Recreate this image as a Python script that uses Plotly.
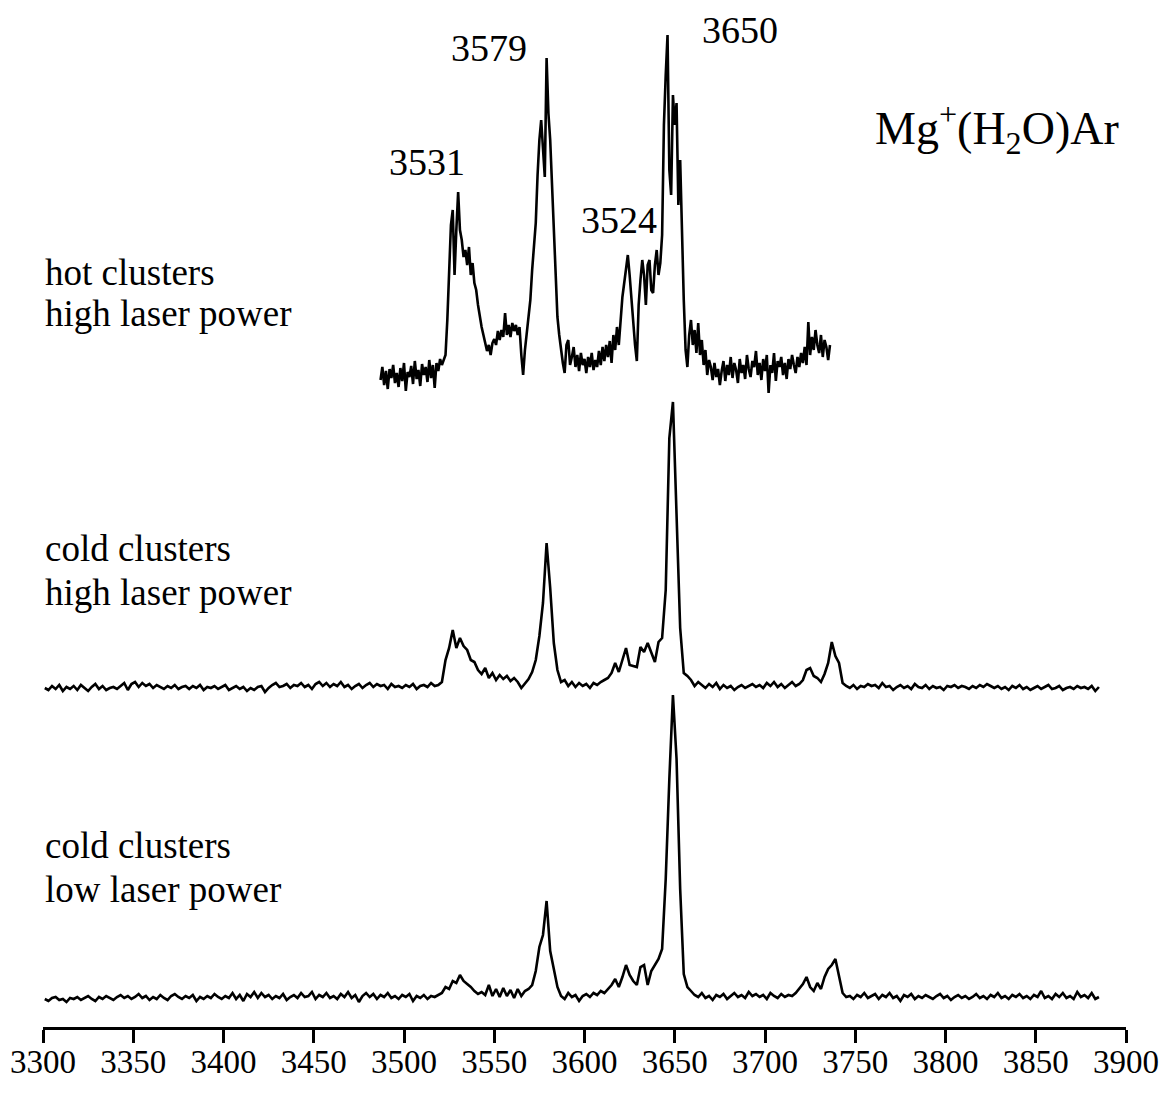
import plotly.graph_objects as go

# ---------------- data (wavenumber in cm^-1, intensity in arbitrary units) ----------------
# hot clusters, high laser power: sampled every 1 cm^-1 starting at 3487
hot_start = 3487
hot_step = 1
hot_left = [-5, 8, -10, 4, -14, 6, -3, 10, -8, 2,
            -12, 7, -6, 12, -16, 3, -2, 9, -9, 14,
            -4, 5, -11, 11, 0, 8, -7, 15, -3, 10,
            -13, 12, 4, 16]
hot_peaks = [10, 15, 20, 55, 100, 150, 165, 100, 145, 183,
             145, 135, 118, 125, 110, 128, 100, 112, 92, 85,
             70, 58, 48, 40, 30, 24, 30, 20, 32, 36,
             30, 44, 35, 45, 38, 62, 40, 50, 38, 52,
             44, 50, 40, 48, 20, 0, 25, 40, 58, 75,
             105, 130, 152, 200, 235, 255, 230, 198, 317, 262,
             235, 190, 130, 92, 58, 40, 25, 12, 2, 30,
             35, 10, 18, 28, 8, 20, 4, 22, 10, 16,
             2, 18, 8, 22, 5, 15, 8, 24, 10, 28,
             14, 30, 18, 34, 12, 40, 25, 48, 30, 60,
             78, 92, 105, 120, 100, 75, 50, 30, 14, 70,
             95, 115, 100, 70, 110, 115, 85, 82, 110, 125,
             100, 112, 140, 250, 300, 340, 205, 180, 280, 250,
             272, 170, 215, 135, 75, 25, 8, 40, 55, 30,
             45, 22, 52, 20, 35, 10, 25, 0, 15]
hot_right = [8, -5, 12, -2, 6, -10, 4, 14, -6, 10,
             0, 18, -3, 12, 5, -8, 16, 2, 10, -4,
             20, 6, -2, 14, 8, 24, 0, 12, -5, 16,
             4, 20, -18, 10, 2, 22, -6, 14, 8, 18,
             0, 12, -4, 16, 6, 20, 10, 2, 18, 8,
             22, 12, 28, 10, 53, 20, 38, 25, 45, 30,
             22, 40, 18, 35, 28, 15, 30]

# cold clusters, high laser power: sampled every 2 cm^-1 starting at 3301
cold_start = 3301
cold_step = 2
coldhi_left = [0, -2, 2, -1, 3, -3, 1, -1, 2, -2,
               3, 0, -3, 1, 4, -1, 2, -2, 0, 1,
               -1, 2, 5, -2, 4, 6, 1, 5, 2, 4,
               0, 3, 1, -1, 2, 0, 3, -1, 1, 2,
               -1, 2, 0, 3, -2, 1, 0, 2, -1, 1,
               3, -2, 0, 2, -1, 1, -3, 0, -2, 1,
               2, -4, 0, 3, 5, 1, 2, 4, 0, 3,
               2, 5, 1, 3, -1, 4, 6, 2, 5, 1,
               4, 2, 6, 1, 3, -1, 2, 4, 0, 3,
               5, 1, 4, 2, 3, -1, 4, 1, 2, 0,
               3, 1, 4, -1, 2, 3, 1, 5, 2]
coldhi_peaks = [3, 6, 28, 40, 58, 40, 50, 42, 38, 28,
                26, 18, 14, 20, 10, 15, 8, 13, 9, 12,
                7, 10, 6, 0, 4, 9, 16, 28, 52, 85,
                145, 100, 45, 18, 6, 8, 2, 6, 1, 5,
                2, 4, 0, 5, 3, 6, 8, 10, 15, 25,
                16, 28, 40, 23, 22, 21, 41, 36, 45, 35,
                26, 46, 50, 98, 250, 286, 175, 60, 15, 12]
coldhi_mid = [8, 2, 6, 3, 0, 4, 1, 5, -1, 3,
              0, 2, -2, 1, 3, 0, 2, 4, 1, 3,
              0, 5, 2, 6, 1, 4, 0, 3, 6, 2]
coldhi_bump = [4, 8, 18, 20, 12, 10, 6, 14, 25, 46, 32, 25, 5, 2]
coldhi_right = [0, 3, -1, 2, 1, 4, 2, 3, 0, 5,
                1, 2, -2, 1, 3, 0, 2, -1, 4, 1,
                0, 3, -1, 2, 0, 1, -2, 2, 1, 3,
                0, 2, 1, -1, 2, 0, 3, 1, 4, 2,
                0, 2, -1, 1, -2, 2, 0, 3, -1, 1,
                -2, 0, 2, -1, 1, 3, -1, 0, 2, -2,
                0, 1, -1, 2, 0, 1, -1, 2, -3, 1]

# cold clusters, low laser power: sampled every 2 cm^-1 starting at 3301
coldlo_left = [0, -2, 1, 2, -1, 0, -3, 1, 0, 2,
               -1, 1, 3, 0, -2, 2, 0, 3, 1, -1,
               2, 4, 1, 3, 0, 2, 5, 1, 3, -1,
               2, 0, 4, 1, -1, 3, 5, 2, 0, 3,
               1, 4, -2, 2, 0, 3, 1, 5, 2, 0,
               3, 1, 6, 0, 4, -2, 5, 2, 7, 1,
               6, 2, 4, 0, 3, 1, 5, -1, 2, 4,
               1, 6, 2, 3, 7, 0, 4, 2, 6, 1,
               3, 0, 5, 2, 7, 1, 4, -3, 3, 6,
               2, 5, 0, 4, 2, 6, 1, 3, 0, 4,
               2, 5, -2, 3, 1, 4, 0, 3, 2]
coldlo_peaks = [4, 6, 12, 10, 18, 16, 24, 18, 15, 12,
                8, 5, 7, 4, 14, 3, 10, 2, 11, 3,
                9, 1, 10, 3, 8, 10, 14, 28, 52, 64,
                98, 48, 30, 12, 3, 0, 6, 2, 4, -2,
                3, 5, 2, 6, 4, 8, 6, 10, 14, 20,
                12, 22, 34, 24, 18, 14, 32, 34, 14, 28,
                34, 40, 50, 120, 220, 304, 240, 110, 25, 12]
coldlo_mid = [8, 4, 2, 6, 1, 3, -1, 4, 2, 5,
              0, 3, 6, 2, 4, 1, 7, 3, 5, 2,
              4, 0, 6, 3, 1, 5, 2, 4]
coldlo_bump = [3, 6, 10, 15, 22, 12, 8, 16, 10, 22, 30, 34, 40, 22, 6, 2]
coldlo_right = [3, 0, 4, 2, 6, 1, 3, 5, 0, 4,
                2, 6, 1, 3, -2, 4, 2, 5, 0, 3,
                1, 4, 2, 0, 3, 5, 1, 3, -1, 2,
                4, 1, 3, 0, 2, 5, 1, 3, 0, 4,
                2, 6, 1, 3, 0, 4, 2, 5, 1, 3,
                0, 4, 2, 8, 1, 3, 0, 5, 2, 6,
                1, 3, 0, 7, 2, 4, 1, 6, 0, 2]

tick_values = [3300, 3350, 3400, 3450, 3500, 3550, 3600, 3650, 3700, 3750, 3800, 3850, 3900]
peak_labels = ["3531", "3579", "3524", "3650"]

# ---------------- assemble series ----------------
hot_y = hot_left + hot_peaks + hot_right
coldhi_y = coldhi_left + coldhi_peaks + coldhi_mid + coldhi_bump + coldhi_right
coldlo_y = coldlo_left + coldlo_peaks + coldlo_mid + coldlo_bump + coldlo_right

hot_x = [hot_start + hot_step * i for i in range(len(hot_y))]
coldhi_x = [cold_start + cold_step * i for i in range(len(coldhi_y))]
coldlo_x = [cold_start + cold_step * i for i in range(len(coldlo_y))]

# vertical offsets used to stack the spectra
OFF_HOT, OFF_HI, OFF_LO = 652, 339, 28

FONT = "Liberation Serif, Times New Roman, serif"

fig = go.Figure()
for xs, ys, off in [(hot_x, hot_y, OFF_HOT), (coldhi_x, coldhi_y, OFF_HI), (coldlo_x, coldlo_y, OFF_LO)]:
    fig.add_trace(go.Scatter(x=xs, y=[v + off for v in ys], mode="lines",
                             line=dict(color="black", width=2.6), showlegend=False,
                             hoverinfo="skip"))

W, H = 1169, 1094
ML, MR, MT, MB = 40, 34, 10, 67
PW, PH = W - ML - MR, H - MT - MB

def px(xp):
    return (xp - ML) / PW

def py(yp):
    return (H - MB - yp) / PH

ann = []
def add_text(txt, x, y, size, xanchor="left"):
    ann.append(dict(text=txt, x=px(x), y=py(y), xref="paper", yref="paper",
                    xanchor=xanchor, yanchor="middle", showarrow=False,
                    font=dict(family=FONT, size=size, color="black")))

add_text("hot clusters", 40, 272, 37)
add_text("high laser power", 40, 314, 37)
add_text("cold clusters", 40, 548, 37)
add_text("high laser power", 40, 592, 37)
add_text("cold clusters", 40, 845, 37)
add_text("low laser power", 40, 889, 37)
add_text(peak_labels[0], 428, 162, 38, "center")
add_text(peak_labels[1], 491, 48, 38, "center")
add_text(peak_labels[2], 622, 220, 38, "center")
add_text(peak_labels[3], 745, 30, 38, "center")
add_text("Mg<sup>+</sup>(H<sub>2</sub>O)Ar", 1005, 128, 46, "center")

fig.update_layout(
    width=W, height=H,
    margin=dict(l=ML, r=MR, t=MT, b=MB),
    paper_bgcolor="white", plot_bgcolor="white",
    annotations=ann,
    xaxis=dict(range=[3300, 3900], tickvals=tick_values,
               ticktext=[str(t) for t in tick_values],
               showgrid=False, zeroline=False, showline=True,
               linecolor="black", linewidth=3, ticks="outside",
               ticklen=13, tickwidth=3, tickcolor="black",
               ticklabelstandoff=-10,
               tickfont=dict(family=FONT, size=33, color="black")),
    yaxis=dict(range=[0, PH], visible=False, showgrid=False, zeroline=False),
)

fig.write_html("out.html")
